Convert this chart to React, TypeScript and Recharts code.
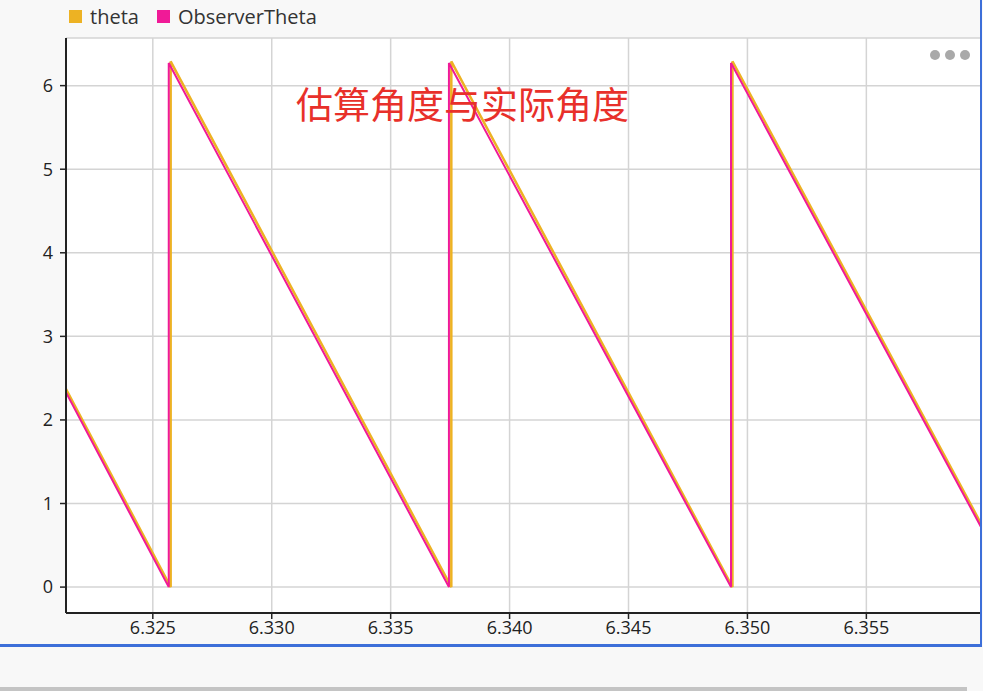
import { LineChart, Line, XAxis, YAxis, CartesianGrid } from "recharts";

// sawtooth corners (time in s, angle in rad)
const thetaTime = [6.32135, 6.32575, 6.32575, 6.33755, 6.33755, 6.34937, 6.34937, 6.35982];
const thetaValue = [2.37, 0.0, 6.29, 0.0, 6.29, 0.0, 6.29, 0.76];

const observerTime = [6.32135, 6.32567, 6.32567, 6.33745, 6.33745, 6.34931, 6.34931, 6.35982];
const observerValue = [2.33, 0.0, 6.27, 0.0, 6.27, 0.0, 6.27, 0.72];

const xTicks = [6.325, 6.33, 6.335, 6.34, 6.345, 6.35, 6.355];
const yTicks = [0, 1, 2, 3, 4, 5, 6];

const thetaData = thetaTime.map((t, i) => ({ t, v: thetaValue[i] }));
const observerData = observerTime.map((t, i) => ({ t, v: observerValue[i] }));

const font = '"Segoe UI", "Open Sans", "Noto Sans", sans-serif';
const legendItems = [
  { name: "theta", color: "#edb223" },
  { name: "ObserverTheta", color: "#f01a97" },
];

function TopLegend() {
  return (
    <div
      style={{
        position: "absolute",
        left: 69,
        top: 3,
        display: "flex",
        gap: 18,
        fontFamily: font,
        fontSize: 20,
        color: "#333",
      }}
    >
      {legendItems.map((it) => (
        <div key={it.name} style={{ display: "flex", alignItems: "center", gap: 8 }}>
          <span style={{ width: 13, height: 13, background: it.color, display: "inline-block" }} />
          <span>{it.name}</span>
        </div>
      ))}
    </div>
  );
}

export default function App() {
  return (
    <div style={{ position: "fixed", left: 0, top: 0, width: 983, height: 691, background: "#f8f8f8", overflow: "hidden" }}>
      <LineChart width={983} height={645} margin={{ top: 38, right: 2, bottom: 0, left: 0 }}>
        <CartesianGrid stroke="#d4d4d4" strokeWidth={1.5} fill="#fff" />
        <XAxis
          dataKey="t"
          type="number"
          domain={[6.32135, 6.35982]}
          allowDataOverflow
          ticks={xTicks}
          tickFormatter={(v) => v.toFixed(3)}
          height={32}
          tick={{ fill: "#222", fontSize: 18, fontFamily: font }}
          axisLine={{ stroke: "#222", strokeWidth: 2 }}
          tickLine={{ stroke: "#222", strokeWidth: 1.5 }}
          tickSize={6}
          tickMargin={2}
        />
        <XAxis
          xAxisId="top"
          orientation="top"
          dataKey="t"
          type="number"
          domain={[6.32135, 6.35982]}
          allowDataOverflow
          height={0}
          tick={false}
          tickLine={false}
          axisLine={{ stroke: "#222", strokeWidth: 2 }}
        />
        <YAxis
          type="number"
          domain={[-0.31, 6.57]}
          allowDataOverflow
          ticks={yTicks}
          width={66}
          tick={{ fill: "#222", fontSize: 18, fontFamily: font }}
          axisLine={{ stroke: "#222", strokeWidth: 2 }}
          tickLine={{ stroke: "#222", strokeWidth: 1.5 }}
          tickSize={6}
          tickMargin={7}
        />
        <Line data={thetaData} dataKey="v" name="theta" type="linear" stroke="#edb223" strokeWidth={2.5} dot={false} isAnimationActive={false} />
        <Line data={observerData} dataKey="v" name="ObserverTheta" type="linear" stroke="#f01a97" strokeWidth={2} dot={false} isAnimationActive={false} />
      </LineChart>
      <TopLegend />
      <div style={{ position: "absolute", left: 296, top: 80, fontSize: 37, color: "#e8302a", fontFamily: '"Noto Sans CJK SC", sans-serif', lineHeight: "46px" }}>
        估算角度与实际角度
      </div>
      <div style={{ position: "absolute", left: 930, top: 50, display: "flex", gap: 5 }}>
        {[0, 1, 2].map((i) => (
          <span key={i} style={{ width: 10, height: 10, borderRadius: 5, background: "#a9a9a9" }} />
        ))}
      </div>
      <div style={{ position: "absolute", left: 980, top: 0, width: 2, height: 647, background: "#3d6fd9" }} />
      <div style={{ position: "absolute", left: 0, top: 644, width: 982, height: 3, background: "#3d6fd9" }} />
      <div style={{ position: "absolute", left: 0, top: 687, width: 967, height: 4, background: "#c4c4c4" }} />
    </div>
  );
}
